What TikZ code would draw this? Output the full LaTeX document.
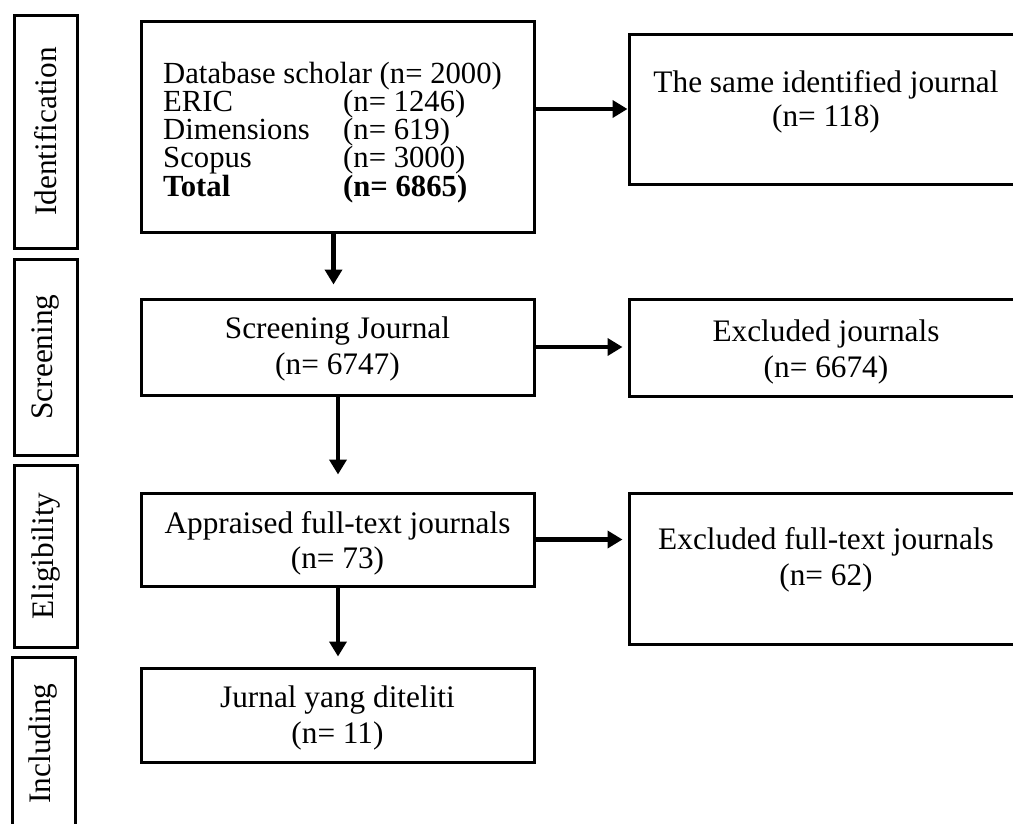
\documentclass[tikz,border=0pt]{standalone}
\usepackage{fontspec}
\setmainfont{Liberation Serif}
\usetikzlibrary{arrows.meta}
\newcommand{\fs}[1]{\fontsize{31.3}{#1}\selectfont\lineskiplimit=-100pt }
\begin{document}
\begin{tikzpicture}[x=1pt,y=-1pt,
  phase/.style={draw,line width=3pt,rectangle,inner sep=0,minimum width=63pt},
  stagebox/.style={draw,line width=3pt,rectangle,inner sep=0,minimum width=393pt},
  sidebox/.style={draw,line width=3pt,rectangle,inner sep=0,minimum width=395pt},
  phaselbl/.style={rotate=90,inner sep=0,font=\fontsize{31.3}{36}\selectfont},
  txt/.style={anchor=base,inner sep=0},
  arr/.style={line width=4.5pt,-{Triangle[length=15pt,width=17pt]}}]
\useasboundingbox (0,0) rectangle (1013,823);
\clip (0,0) rectangle (1013,823);
% phase boxes
\node[phase,minimum height=233pt] (p1) at (45.5,131.5) {};
\node[phase,minimum height=196pt] (p2) at (45.5,357) {};
\node[phase,minimum height=182pt] (p3) at (46,556) {};
\node[phase,minimum height=172pt] (p4) at (43.5,743.5) {};
\node[phaselbl] (l1) at (p1.center) {Identification};
\node[phaselbl] (l2) at (p2.center) {Screening};
\node[phaselbl] (l3) at (p3.center) {Eligibility};
\node[phaselbl] (l4) at (p4.center) {Including};
% main boxes
\node[stagebox,minimum height=211pt] (b1) at (337.5,126.5) {};
\node[stagebox,minimum height=96pt] (b2) at (337.5,347) {};
\node[stagebox,minimum height=93pt] (b3) at (337.5,539.5) {};
\node[stagebox,minimum height=94pt] (b4) at (337.5,715) {};
% side boxes
\node[sidebox,minimum height=150pt] (r1) at (826.5,109) {};
\node[sidebox,minimum height=97pt] (r2) at (826.5,347.5) {};
\node[sidebox,minimum height=151pt] (r3) at (826.5,568.5) {};
% texts
\node[anchor=base west,inner sep=0] (t1) at (163,83) {\parbox[t]{370pt}{\fontsize{30.7}{28.3}\selectfont\lineskiplimit=-100pt
  Database scholar (n= 2000)\\
  \makebox[180pt][l]{ERIC}(n= 1246)\\
  \makebox[180pt][l]{Dimensions}(n= 619)\\
  \makebox[180pt][l]{Scopus}(n= 3000)\\
  \textbf{\makebox[180pt][l]{Total}(n= 6865)}}};
\node[txt] (t2) at (337.5,338) {\parbox[t]{390pt}{\centering\fs{36}Screening Journal\\(n= 6747)}};
\node[txt] (t3) at (337.5,533) {\parbox[t]{390pt}{\centering\fs{35}Appraised full-text journals\\(n= 73)}};
\node[txt] (t4) at (337.5,707) {\parbox[t]{390pt}{\centering\fs{36}Jurnal yang diteliti\\(n= 11)}};
\node[txt] (s1) at (826,92) {\parbox[t]{390pt}{\centering\fs{34}The same identified journal\\(n= 118)}};
\node[txt] (s2) at (826,341) {\parbox[t]{390pt}{\centering\fs{36}Excluded journals\\(n= 6674)}};
\node[txt] (s3) at (826,549) {\parbox[t]{390pt}{\centering\fs{36}Excluded full-text journals\\(n= 62)}};
% connectors
\draw[arr,shorten >=13pt] ([xshift=-4pt]b1.south) -- ([xshift=-4pt]b2.north);
\draw[arr,shorten >=17pt] ([xshift=0.5pt]b2.south) -- ([xshift=0.5pt]b3.north);
\draw[arr,shorten >=10pt] ([xshift=0.5pt]b3.south) -- ([xshift=0.5pt]b4.north);
\draw[arr] (b1.east |- r1.west) -- (r1.west);
\draw[arr,shorten >=5pt] (b2.east) -- (r2.west |- b2.east);
\draw[arr,shorten >=5pt] (b3.east) -- (r3.west |- b3.east);
\end{tikzpicture}
\end{document}
